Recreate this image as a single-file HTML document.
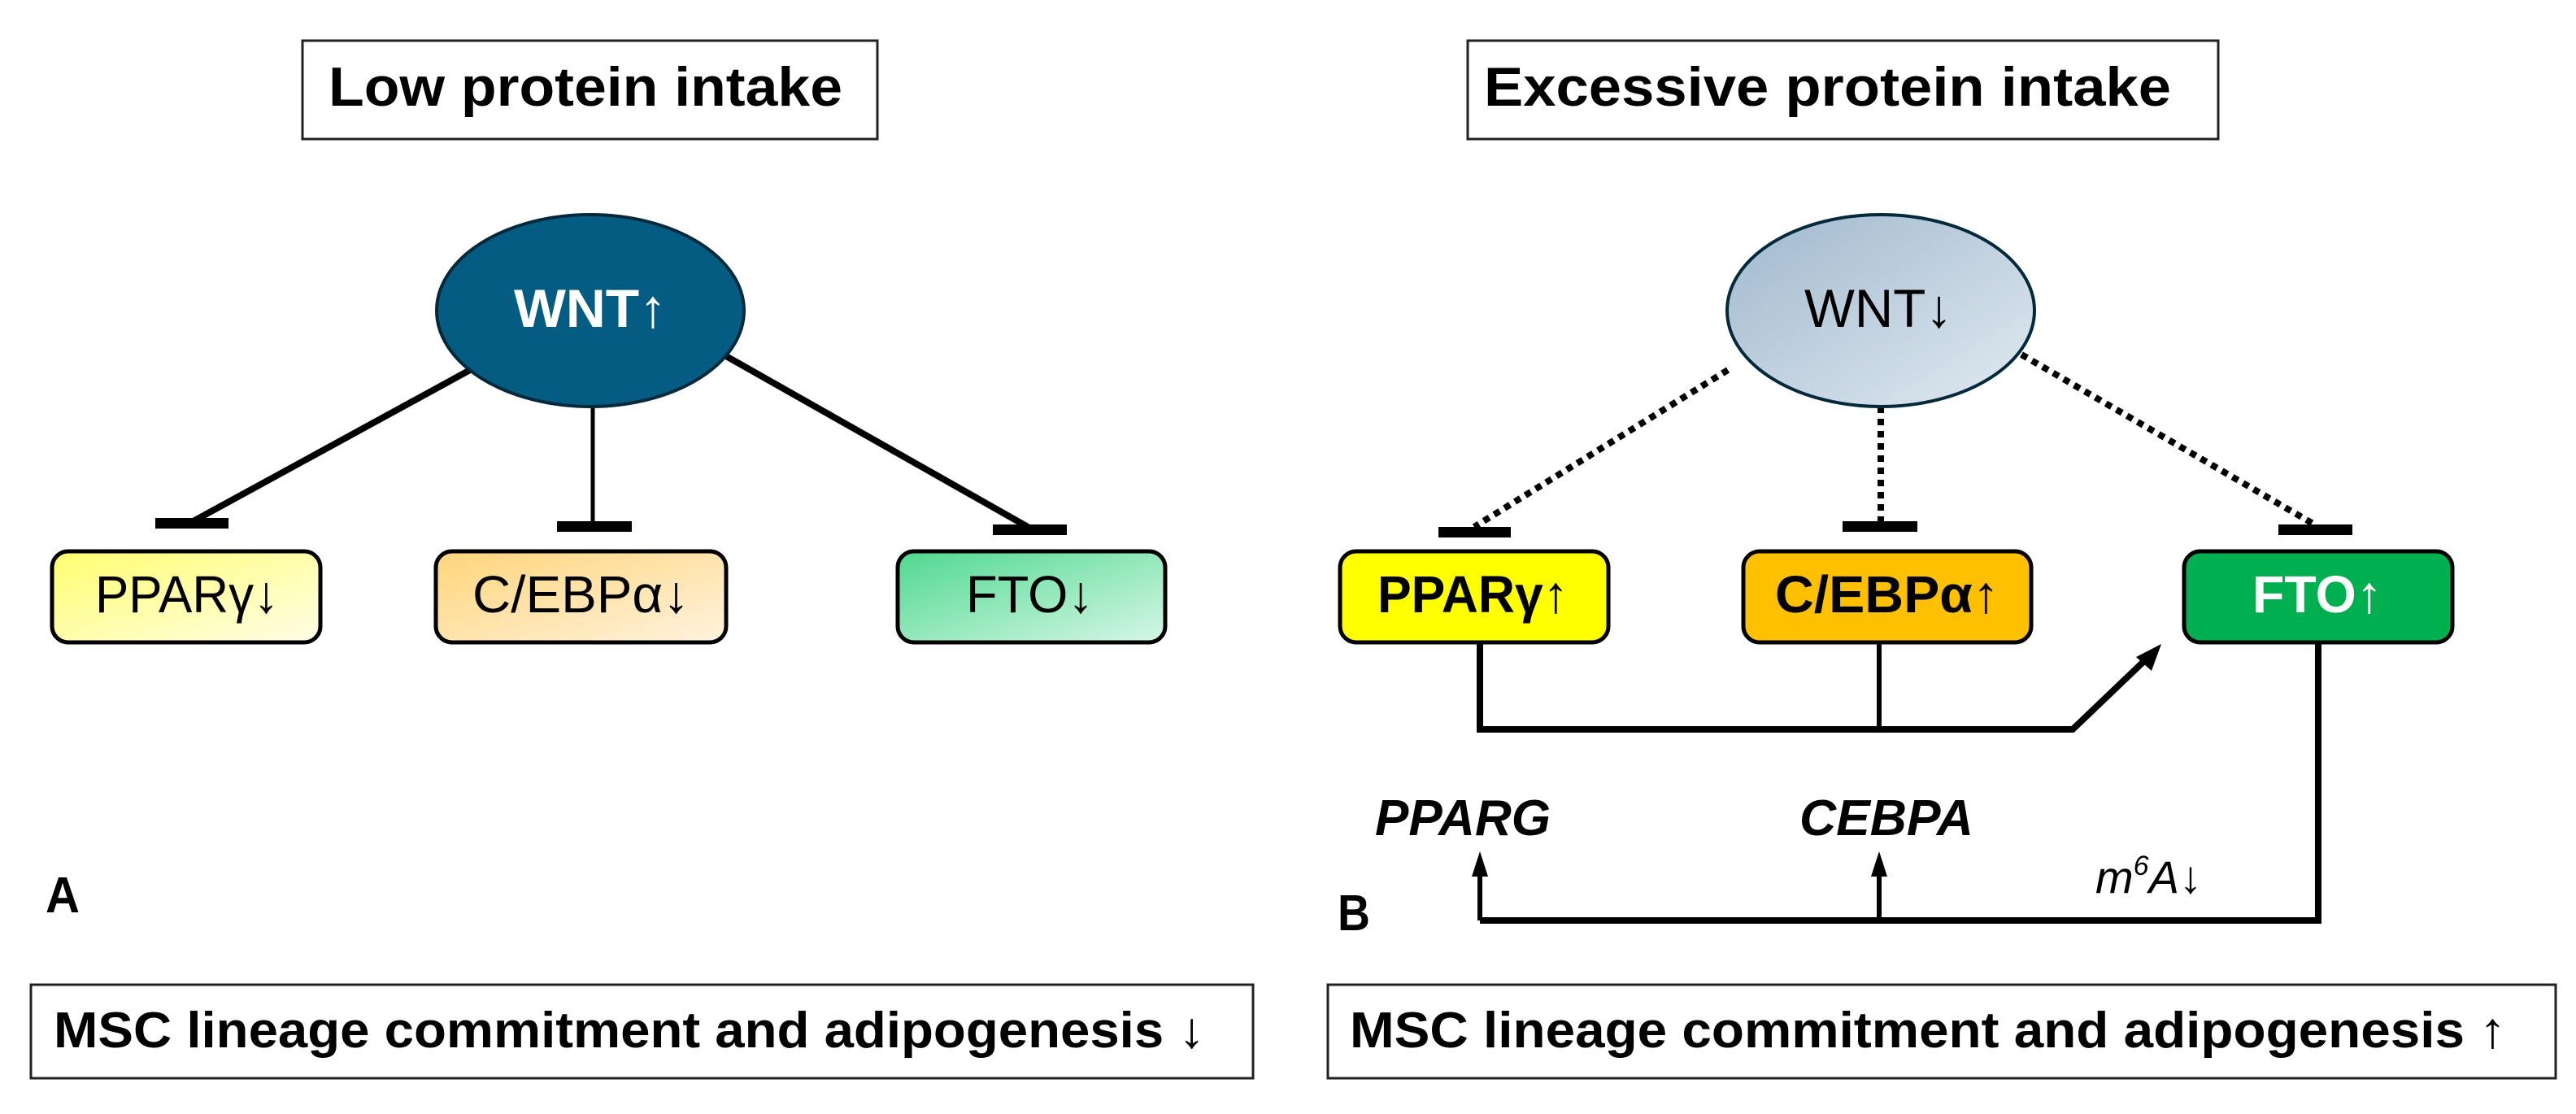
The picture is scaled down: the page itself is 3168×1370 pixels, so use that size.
<!DOCTYPE html>
<html><head><meta charset="utf-8"><style>html,body{margin:0;padding:0;background:#fff}svg{display:block}</style></head><body>
<svg width="3168" height="1370" viewBox="0 0 3168 1370" xmlns="http://www.w3.org/2000/svg" font-family="'Liberation Sans Narrow','Liberation Sans',sans-serif">
<defs>
<linearGradient id="gy" x1="0" y1="0" x2="1" y2="1"><stop offset="0" stop-color="#ffff70"/><stop offset="1" stop-color="#fffde6"/></linearGradient>
<linearGradient id="go" x1="0" y1="0" x2="1" y2="1"><stop offset="0" stop-color="#ffd57a"/><stop offset="1" stop-color="#fff2de"/></linearGradient>
<linearGradient id="gg" x1="0" y1="0" x2="1" y2="1"><stop offset="0" stop-color="#50d890"/><stop offset="1" stop-color="#d6f7e6"/></linearGradient>
<linearGradient id="gw" x1="0" y1="0" x2="1" y2="1"><stop offset="0" stop-color="#9fb8cd"/><stop offset="1" stop-color="#e2eaf1"/></linearGradient>
</defs>
<!-- Left panel -->
<rect x="372" y="50" width="707" height="121" fill="#fff" stroke="#222" stroke-width="3"/>
<text x="404" y="130" font-size="68" font-weight="bold" textLength="632" lengthAdjust="spacingAndGlyphs">Low protein intake</text>
<g stroke="#000" stroke-width="8" fill="none">
<line x1="589" y1="449" x2="234" y2="643"/>
<line x1="729" y1="500" x2="729" y2="646" stroke-width="5"/>
<line x1="893" y1="438" x2="1264" y2="648"/>
</g>
<rect x="191" y="637" width="90" height="13" fill="#000"/>
<rect x="685" y="641" width="92" height="13" fill="#000"/>
<rect x="1221" y="645" width="91" height="13" fill="#000"/>
<ellipse cx="726" cy="382" rx="189" ry="118" fill="#045c82" stroke="#03293a" stroke-width="4"/>
<text x="632" y="402" font-size="66" font-weight="bold" fill="#fff" textLength="188" lengthAdjust="spacingAndGlyphs">WNT↑</text>
<rect x="64" y="678" width="330" height="112" rx="20" fill="url(#gy)" stroke="#000" stroke-width="5"/>
<rect x="536" y="678" width="357" height="112" rx="20" fill="url(#go)" stroke="#000" stroke-width="5"/>
<rect x="1104" y="678" width="329" height="112" rx="20" fill="url(#gg)" stroke="#000" stroke-width="5"/>
<text x="117" y="753" font-size="64" textLength="226" lengthAdjust="spacingAndGlyphs">PPARγ↓</text>
<text x="581" y="753" font-size="64" textLength="267" lengthAdjust="spacingAndGlyphs">C/EBPα↓</text>
<text x="1188" y="753" font-size="64" textLength="157" lengthAdjust="spacingAndGlyphs">FTO↓</text>
<text x="56" y="1122" font-size="62" font-weight="bold" textLength="42" lengthAdjust="spacingAndGlyphs">A</text>
<rect x="38" y="1211" width="1503" height="115" fill="#fff" stroke="#222" stroke-width="3"/>
<text x="66" y="1288" font-size="62" font-weight="bold" textLength="1416" lengthAdjust="spacingAndGlyphs">MSC lineage commitment and adipogenesis ↓</text>
<!-- Right panel -->
<rect x="1805" y="50" width="923" height="121" fill="#fff" stroke="#222" stroke-width="3"/>
<text x="1825" y="130" font-size="68" font-weight="bold" textLength="845" lengthAdjust="spacingAndGlyphs">Excessive protein intake</text>
<g stroke="#000" stroke-width="8" fill="none" stroke-dasharray="8 7">
<line x1="2125" y1="455" x2="1813" y2="648"/>
<line x1="2313" y1="500" x2="2313" y2="642"/>
<line x1="2486" y1="436" x2="2848" y2="646"/>
</g>
<rect x="1769" y="648" width="89" height="13" fill="#000"/>
<rect x="2266" y="641" width="92" height="13" fill="#000"/>
<rect x="2802" y="645" width="91" height="13" fill="#000"/>
<ellipse cx="2313" cy="382" rx="189" ry="118" fill="url(#gw)" stroke="#03293a" stroke-width="4"/>
<text x="2219" y="402" font-size="66" fill="#000" textLength="182" lengthAdjust="spacingAndGlyphs">WNT↓</text>
<rect x="1648" y="678" width="330" height="112" rx="20" fill="#ffff00" stroke="#000" stroke-width="5"/>
<rect x="2144" y="678" width="354" height="112" rx="20" fill="#ffc000" stroke="#000" stroke-width="5"/>
<rect x="2686" y="678" width="330" height="112" rx="20" fill="#00b050" stroke="#000" stroke-width="5"/>
<text x="1694" y="753" font-size="64" font-weight="bold" textLength="235" lengthAdjust="spacingAndGlyphs">PPARγ↑</text>
<text x="2183" y="753" font-size="64" font-weight="bold" textLength="276" lengthAdjust="spacingAndGlyphs">C/EBPα↑</text>
<text x="2770" y="753" font-size="64" font-weight="bold" fill="#fff" textLength="160" lengthAdjust="spacingAndGlyphs">FTO↑</text>
<g stroke="#000" stroke-width="8" fill="none">
<polyline points="1820,790 1820,897 2549,897 2640,810" stroke-linejoin="miter"/>
<line x1="2311" y1="790" x2="2311" y2="897" stroke-width="6"/>
<polyline points="2851,790 2851,1132 1820,1132"/>
<line x1="1820" y1="1132" x2="1820" y2="1075" stroke-width="6"/>
<line x1="2311" y1="1132" x2="2311" y2="1075" stroke-width="6"/>
</g>
<polygon points="2658,792 2627,808 2646,825" fill="#000"/>
<polygon points="1820,1047 1810,1078 1830,1078" fill="#000"/>
<polygon points="2311,1047 2301,1078 2321,1078" fill="#000"/>
<text x="1691" y="1027" font-size="62" font-weight="bold" font-style="italic" textLength="216" lengthAdjust="spacingAndGlyphs">PPARG</text>
<text x="2213" y="1027" font-size="62" font-weight="bold" font-style="italic" textLength="214" lengthAdjust="spacingAndGlyphs">CEBPA</text>
<text x="2577" y="1098" font-size="56" font-style="italic">m<tspan font-size="34" dy="-22">6</tspan><tspan dy="22">A↓</tspan></text>
<text x="1645" y="1144" font-size="62" font-weight="bold" textLength="40" lengthAdjust="spacingAndGlyphs">B</text>
<rect x="1633" y="1211" width="1510" height="115" fill="#fff" stroke="#222" stroke-width="3"/>
<text x="1660" y="1288" font-size="62" font-weight="bold" textLength="1422" lengthAdjust="spacingAndGlyphs">MSC lineage commitment and adipogenesis ↑</text>
</svg>
</body></html>
